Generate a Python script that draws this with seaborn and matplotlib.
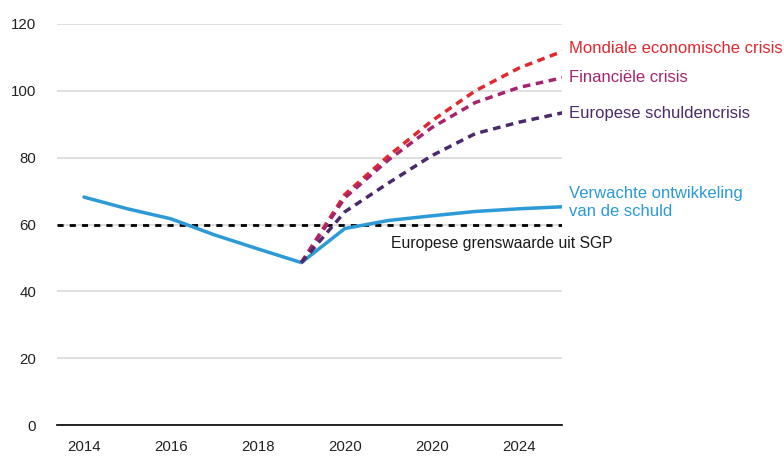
import pandas as pd
import matplotlib.pyplot as plt
import seaborn as sns

# Debt ratio (% of GDP)
years = [2014, 2015, 2016, 2017, 2018, 2019, 2020, 2021, 2022, 2023, 2024, 2025]
scenario_years = [2019, 2020, 2021, 2022, 2023, 2024, 2025]

verwacht = [68.2, 64.7, 61.7, 56.9, 52.7, 48.6, 58.8, 61.2, 62.6, 63.9, 64.7, 65.3]
mondiaal = [48.6, 69.0, 80.5, 91.0, 100.0, 106.8, 111.8]
financieel = [48.6, 68.0, 79.3, 89.0, 96.5, 101.0, 103.9]
europees = [48.6, 63.8, 72.4, 80.6, 87.2, 90.6, 93.4]

grenswaarde = 60
tick_years = [2014, 2016, 2018, 2020, 2022, 2024]
tick_labels = ["2014", "2016", "2018", "2020", "2020", "2024"]

names = ["Verwachte ontwikkeling\nvan de schuld", "Mondiale economische crisis",
         "Financiële crisis", "Europese schuldencrisis"]
colors = ["#2b9ad6", "#e0282f", "#a5246f", "#4b2a6c"]

# Build long table
frames = [pd.DataFrame({"jaar": years, "schuld": verwacht, "scenario": names[0]})]
for name, vals in zip(names[1:], [mondiaal, financieel, europees]):
    frames.append(pd.DataFrame({"jaar": scenario_years, "schuld": vals, "scenario": name}))
df = pd.concat(frames, ignore_index=True)

sns.set_style("white")
plt.rcParams['font.family'] = ['Liberation Sans', 'DejaVu Sans']

fig = plt.figure(figsize=(7.84, 4.57), dpi=100)
ax = fig.add_axes([0.0727, 0.070, 0.6445, 0.8775])

# Threshold line first (below the data)
ax.axhline(grenswaarde, color="black", lw=2.0, dashes=(2.2, 2.2), zorder=2)

palette = dict(zip(names, colors))
sns.lineplot(data=df, x="jaar", y="schuld", hue="scenario", style="scenario",
             palette=palette, hue_order=names, style_order=names,
             dashes={names[0]: "", names[1]: (2.2, 1.6), names[2]: (2.2, 1.6), names[3]: (2.2, 1.6)},
             lw=2.5, legend=False, ax=ax, zorder=3)

ax.set_xlim(2013.38, 2025.0)
ax.set_ylim(0, 120)
ax.set_yticks(range(0, 121, 20))
ax.set_xticks(tick_years)
ax.set_xticklabels(tick_labels)
ax.grid(axis="y", color="#d9d9d9", lw=1.2)
ax.grid(axis="x", visible=False)
for s in ["top", "right", "left"]:
    ax.spines[s].set_visible(False)
ax.spines["bottom"].set_color("black")
ax.spines["bottom"].set_linewidth(1.2)
ax.tick_params(axis="y", length=0, pad=15, labelsize=10.8, colors="#222222")
ax.tick_params(axis="x", length=0, pad=11, labelsize=10.8, colors="#222222")
ax.set_xlabel("")
ax.set_ylabel("")

# Series labels on the right
label_y = [66.5, 112.6, 103.9, 93.1]
for name, c, y in zip(names, colors, label_y):
    ax.text(2025.16, y, name, color=c, fontsize=12, va="center", ha="left",
            linespacing=1.25, clip_on=False)

ax.text(2021.05, 54.4, "Europese grenswaarde uit SGP", color="#1a1a1a",
        fontsize=11.3, va="center", ha="left")

plt.savefig("out.png", dpi=100)
